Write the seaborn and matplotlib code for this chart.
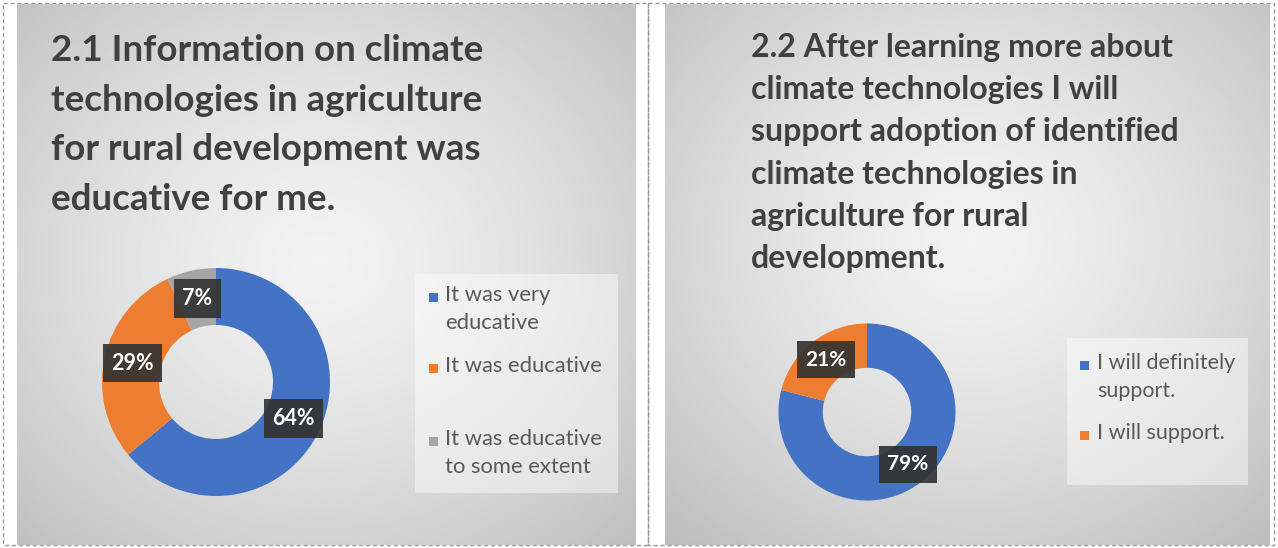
import numpy as np
import matplotlib
matplotlib.use('Agg')
import matplotlib.pyplot as plt
import seaborn as sns
from matplotlib.patches import Rectangle

# 数据
q1_title = ('2.1 Information on climate\ntechnologies in agriculture\n'
            'for rural development was\neducative for me.')
q1_labels = ['It was very\neducative', 'It was educative', 'It was educative\nto some extent']
q1_values = [64, 29, 7]

q2_title = ('2.2 After learning more about\nclimate technologies I will\n'
            'support adoption of identified\nclimate technologies in\n'
            'agriculture for rural\ndevelopment.')
q2_labels = ['I will definitely\nsupport.', 'I will support.']
q2_values = [79, 21]

# 主题和配色
sns.set_theme(style='white')
plt.rcParams['font.family'] = ['Lato', 'DejaVu Sans']
colors = sns.color_palette(['#4472C4', '#ED7D31', '#A5A5A5'])

W, H = 1278, 548
fig = plt.figure(figsize=(W / 100, H / 100), dpi=100)
fig.patch.set_facecolor('white')
bg = fig.add_axes([0, 0, 1, 1])
bg.axis('off')


def panel(x0, x1, y0, y1, cx, cy):
    # 径向渐变背景
    xx, yy = np.meshgrid(np.linspace(x0, x1, 400), np.linspace(y0, y1, 400))
    r = np.sqrt(((xx - cx) / (x1 - x0)) ** 2 + ((yy - cy) / (y1 - y0)) ** 2) / 0.75
    r = np.clip(r, 0, 1)
    v = 0.95 - 0.21 * r ** 1.4
    bg.imshow(v, cmap='gray', vmin=0, vmax=1, extent=(x0, x1, y1, y0),
              interpolation='bilinear', aspect='auto', zorder=1)


def donut(cx, cy, r, values, fs):
    ax = fig.add_axes([(cx - r) / W, (H - cy - r) / H, 2 * r / W, 2 * r / H])
    ax.set_facecolor('none')
    wedges, _ = ax.pie(values, colors=colors[:len(values)], startangle=90,
                       counterclock=False, radius=1,
                       wedgeprops=dict(width=0.5, linewidth=0))
    ax.set_xlim(-1, 1)
    ax.set_ylim(-1, 1)
    ax.axis('off')
    for w, v in zip(wedges, values):
        ang = np.deg2rad((w.theta1 + w.theta2) / 2)
        ax.text(0.75 * np.cos(ang), 0.75 * np.sin(ang), f'{v}%', ha='center', va='center',
                fontsize=fs, fontweight='bold', color='white',
                bbox=dict(boxstyle='square,pad=0.4', fc='#333333', ec='none', alpha=0.92))


def legend(x0, y0, x1, y1, labels, rows, mx, tx, fs):
    bg.add_patch(Rectangle((x0, y0), x1 - x0, y1 - y0, fc='white', ec='none', alpha=0.45, zorder=2))
    for lab, yr, c in zip(labels, rows, colors):
        bg.add_patch(Rectangle((mx, yr - 4.5), 9, 9, fc=c, ec='none', zorder=3))
        bg.text(tx, yr - 12, lab, fontsize=fs, color='#595959', va='top', ha='left',
                linespacing=1.5, zorder=3)


# 虚线边框
bg.add_patch(Rectangle((3, 3), 645, 542, fill=False, ec='#9a9a9a', ls=(0, (3, 2)), lw=1, zorder=0.5))
bg.add_patch(Rectangle((648, 3), 626, 542, fill=False, ec='#9a9a9a', ls=(0, (3, 2)), lw=1, zorder=0.5))

panel(17, 636, 4, 545, 320, 260)
panel(665, 1270, 4, 545, 970, 240)

bg.text(51, 34, q1_title, fontsize=26.5, fontweight='bold', color='#404040',
        va='top', ha='left', linespacing=1.62, zorder=3)
bg.text(751, 33, q2_title, fontsize=23, fontweight='bold', color='#404040',
        va='top', ha='left', linespacing=1.55, zorder=3)

legend(415, 274, 618, 493, q1_labels, [297, 368, 441], 429, 445, 15.8)
legend(1067, 338, 1248, 485, q2_labels, [365, 435], 1080, 1097, 15.5)

bg.set_xlim(0, W)
bg.set_ylim(H, 0)

donut(216, 382, 114, q1_values, 15.5)
donut(867, 412, 88.5, q2_values, 15)

plt.savefig('out.png', dpi=100)
